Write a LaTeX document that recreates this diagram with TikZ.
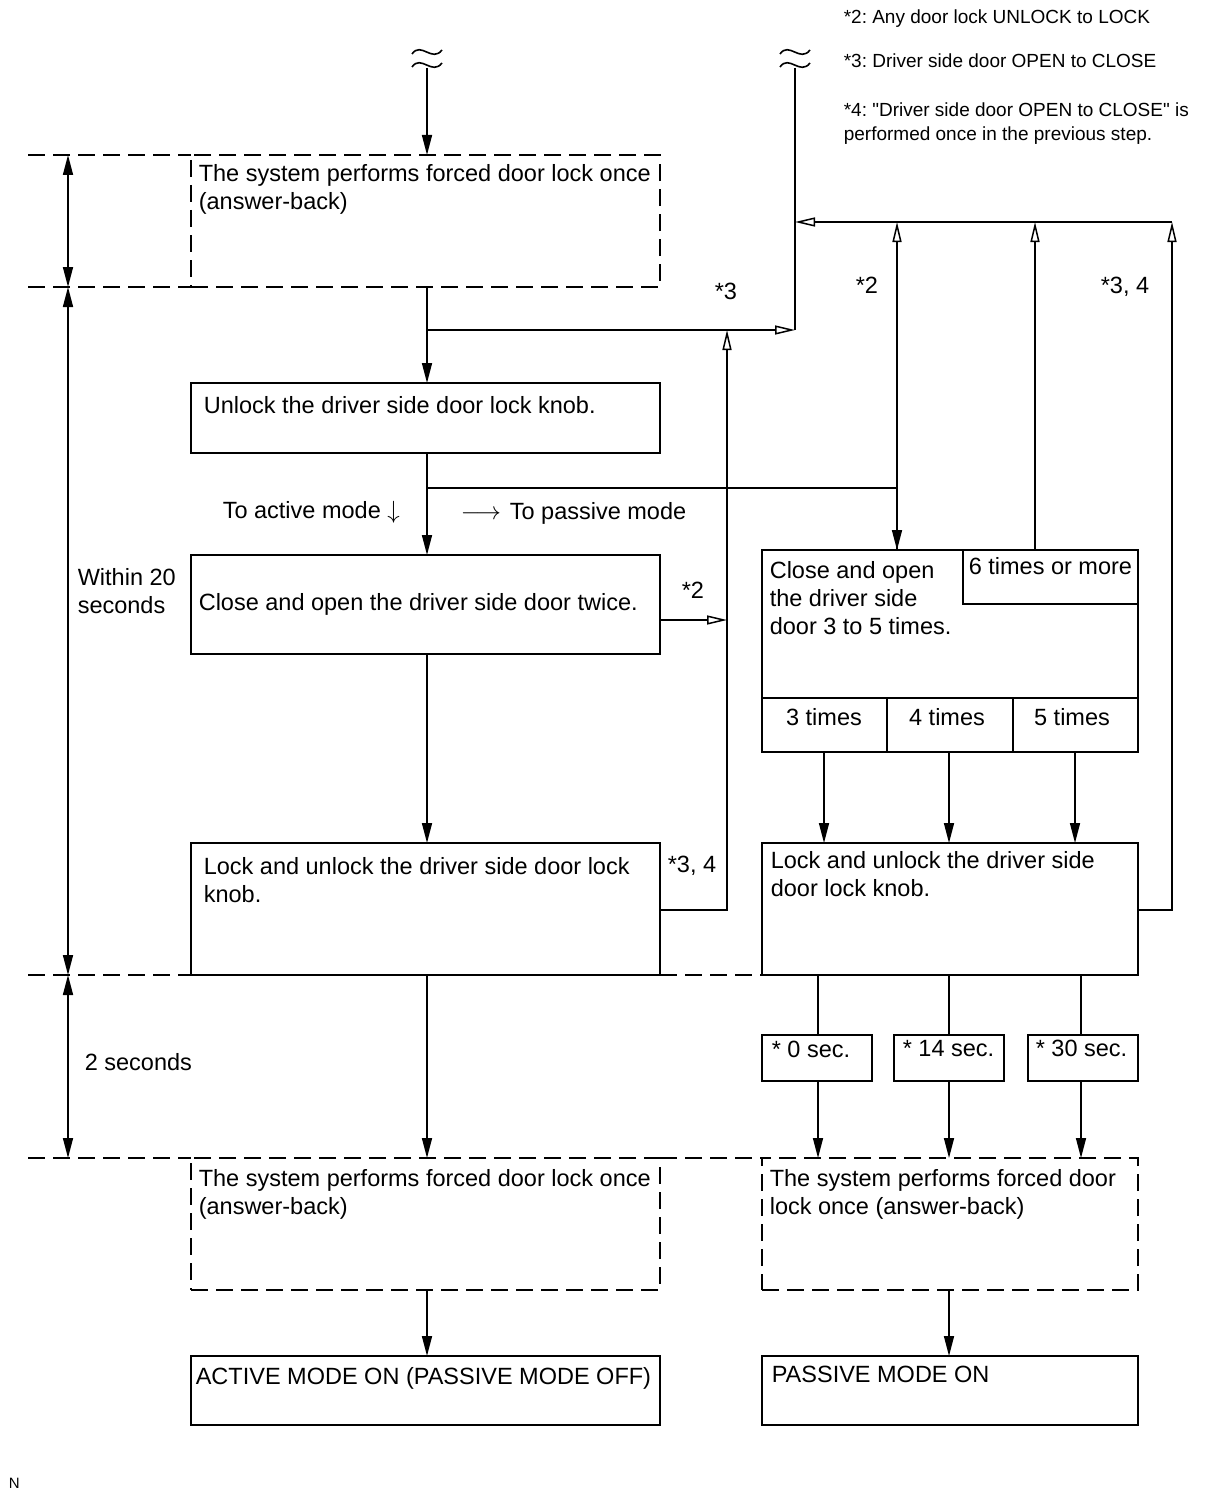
\documentclass[tikz,border=0pt]{standalone}
\usepackage{fontspec}
\setmainfont{Liberation Sans}
\usetikzlibrary{arrows.meta,calc}
\newcommand\mlines[1]{\begin{tabular}[t]{@{}l@{}}#1\end{tabular}}
\newcommand\sq{{\XeTeXglyph\XeTeXcharglyph"22\relax}}
\frenchspacing
\begin{document}
\begin{tikzpicture}[x=1pt,y=-1pt,line width=1.6pt,
  box/.style={draw,line width=2pt,inner sep=0pt,outer sep=0pt},
  dbox/.style={box,dash pattern=on 17pt off 8pt},
  guide/.style={line width=1.8pt,dash pattern=on 17pt off 8pt},
  txt/.style={anchor=base west,inner sep=0pt,font=\fontsize{23.5}{28}\selectfont},
  ctxt/.style={anchor=base,inner sep=0pt,font=\fontsize{23.5}{28}\selectfont},
  note/.style={anchor=base west,inner sep=0pt,font=\fontsize{19}{24}\selectfont},
  arr/.style={-{Triangle[length=20pt,width=10pt]}},
  oarr/.style={-{Triangle[open,length=20pt,width=9pt,line width=1.5pt]}},
  dim/.style={{Triangle[length=20pt,width=10pt]}-{Triangle[length=20pt,width=10pt]}},
  tld/.style={line width=1.6pt}]
\useasboundingbox (0,0) rectangle (1210,1498);
\fill[white] (0,0) rectangle (1210,1498);

% notes
\node[note] (n2) at (843,24) {*2: Any door lock UNLOCK to LOCK};
\node[note] (n3) at (843,68) {*3: Driver side door OPEN to CLOSE};
\node[note] (n4) at (843,117) {\mlines{*4: \sq Driver side door OPEN to CLOSE\sq\ is\\performed once in the previous step.}};

% break symbols
\draw[tld] (412,54) .. controls (421,41) and (432,63) .. (442,50);
\draw[tld] (412,67) .. controls (421,54) and (432,76) .. (442,63);
\draw[tld] (780,54) .. controls (789,41) and (800,63) .. (810,50);
\draw[tld] (780,67) .. controls (789,54) and (800,76) .. (810,63);
\coordinate (t1) at (427,68);
\coordinate (t2) at (795,68);

% boxes
\node[dbox,minimum width=469pt,minimum height=132pt] (b1) at (425.5,221) {};
\node[box,minimum width=469pt,minimum height=70pt] (b2) at (425.5,418) {};
\node[box,minimum width=469pt,minimum height=99pt] (b3) at (425.5,604.5) {};
\node[box,minimum width=469pt,minimum height=132pt] (b4) at (425.5,909) {};
\node[box,minimum width=376pt,minimum height=202pt] (b5) at (950,651) {};
\node[box,minimum width=175pt,minimum height=54pt] (b5s) at (1050.5,577) {};
\node[box,minimum width=125pt,minimum height=54pt] (c3) at (824.5,725) {};
\node[box,minimum width=126pt,minimum height=54pt] (c4) at (950,725) {};
\node[box,minimum width=125pt,minimum height=54pt] (c5) at (1075.5,725) {};
\node[box,minimum width=376pt,minimum height=132pt] (b6) at (950,909) {};
\node[box,minimum width=110pt,minimum height=46pt] (s0) at (817,1058) {};
\node[box,minimum width=110pt,minimum height=46pt] (s14) at (949,1058) {};
\node[box,minimum width=110pt,minimum height=46pt] (s30) at (1083,1058) {};
\node[dbox,minimum width=469pt,minimum height=132pt] (b7) at (425.5,1224) {};
\node[dbox,minimum width=376pt,minimum height=132pt] (b8) at (950,1224) {};
\node[box,minimum width=469pt,minimum height=69pt] (b9) at (425.5,1390.5) {};
\node[box,minimum width=376pt,minimum height=69pt] (b10) at (950,1390.5) {};

% box texts
\node[txt] (b1t) at (198,182) {\mlines{The system performs forced door lock once\\(answer-back)}};
\node[txt] (b2t) at (203,413) {Unlock the driver side door lock knob.};
\node[txt] (b3t) at (198,610) {Close and open the driver side door twice.};
\node[txt] (b4t) at (203,874) {\mlines{Lock and unlock the driver side door lock\\knob.}};
\node[txt] (b5t) at (769,578) {\mlines{Close and open\\the driver side\\door 3 to 5 times.}};
\node[txt] (b5st) at (968,574) {6 times or more};
\node[ctxt] (c3t) at (824,725) {3 times};
\node[ctxt] (c4t) at (947,725) {4 times};
\node[ctxt] (c5t) at (1072,725) {5 times};
\node[txt] (b6t) at (770,868) {\mlines{Lock and unlock the driver side\\door lock knob.}};
\node[txt] (s0t) at (771,1057) {* 0 sec.};
\node[txt] (s14t) at (902,1056) {* 14 sec.};
\node[txt] (s30t) at (1035,1056) {* 30 sec.};
\node[txt] (b7t) at (198,1186) {\mlines{The system performs forced door lock once\\(answer-back)}};
\node[txt] (b8t) at (769,1186) {\mlines{The system performs forced door\\lock once (answer-back)}};
\node[txt] (b9t) at (195,1384) {ACTIVE MODE ON (PASSIVE MODE OFF)};
\node[txt] (b10t) at (771,1382) {PASSIVE MODE ON};

% free labels
\node[txt] (la) at (222,518) {To active mode $\downarrow$};
\node[txt] (lp) at (460,519) {$\longrightarrow$\hspace{9pt}To passive mode};
\node[txt] (l3) at (714,299) {*3};
\node[txt] (l2) at (855,293) {*2};
\node[txt] (l34) at (1100,293) {*3, 4};
\node[txt] (l2b) at (681,598) {*2};
\node[txt] (l34b) at (667,872) {*3, 4};
\node[txt] (w20) at (77,585) {\mlines{Within 20\\seconds}};
\node[txt] (w2) at (84,1070) {2 seconds};
\node[anchor=base west,inner sep=0pt,font=\fontsize{15}{18}\selectfont] (nn) at (8,1488) {N};

% dashed guide lines
\coordinate (g1) at (28,155);
\coordinate (g2) at (28,287);
\coordinate (g3) at (28,975);
\coordinate (g4) at (28,1158);
\draw[guide] (g1) -- (b1.north west);
\draw[guide] (g2) -- (b1.south west);
\draw[guide] (g3) -- (b4.south west);
\draw[guide] (b4.south east) -- (b6.south west);
\draw[guide] (g4) -- (b7.north west);
\draw[guide] (b7.north east) -- (b8.north west);

% dimension arrows
\coordinate (d1) at (68,155);
\coordinate (d2) at (68,287);
\coordinate (d3) at (68,975);
\coordinate (d4) at (68,1158);
\draw[dim] (d1) -- (d2);
\draw[dim] (d2) -- (d3);
\draw[dim] (d3) -- (d4);

% connectors
\coordinate (j1) at (427,330);
\coordinate (r1) at (795,330);
\coordinate (j2) at (427,488);
\coordinate (k2) at (897,488);
\coordinate (top2) at (897,222);
\coordinate (rl) at (795,222);
\coordinate (tr) at (1172,222);
\coordinate (br) at (1172,910);
\coordinate (v1) at (727,330);
\coordinate (v3) at (727,620);
\coordinate (v4) at (727,910);
\coordinate (m6) at (1035,222);

\draw[arr] (t1) -- (t1 |- b1.north);
\draw[arr] (t1 |- b1.south) -- (t1 |- b2.north);
\draw[oarr] (j1) -- (r1);
\draw (t2) -- (r1);
\draw[arr] (t1 |- b2.south) -- (t1 |- b3.north);
\draw[arr] (j2) -- (k2) -- (k2 |- b5.north);
\draw[oarr] (k2 |- b5.north) -- (top2);
\draw[oarr] (m6 |- b5s.north) -- (m6);
\draw[oarr] (b6.east |- br) -- (br) -- (tr);
\draw[oarr] (tr) -- (rl);
\draw[oarr] (b3.east |- v3) -- (v3);
\draw[oarr] (b4.east |- v4) -- (v4) -- (v1);
\draw[arr] (t1 |- b3.south) -- (t1 |- b4.north);
\draw[arr] (824,752) -- (824,843);
\draw[arr] (949,752) -- (949,843);
\draw[arr] (1075,752) -- (1075,843);
\draw (818,975) -- (818,1035);
\draw (949,975) -- (949,1035);
\draw (1081,975) -- (1081,1035);
\draw[arr] (818,1081) -- (818,1158);
\draw[arr] (949,1081) -- (949,1158);
\draw[arr] (1081,1081) -- (1081,1158);
\draw[arr] (t1 |- b4.south) -- (t1 |- b7.north);
\draw[arr] (t1 |- b7.south) -- (t1 |- b9.north);
\draw[arr] (949,1290) -- (949,1356);
\end{tikzpicture}
\end{document}
